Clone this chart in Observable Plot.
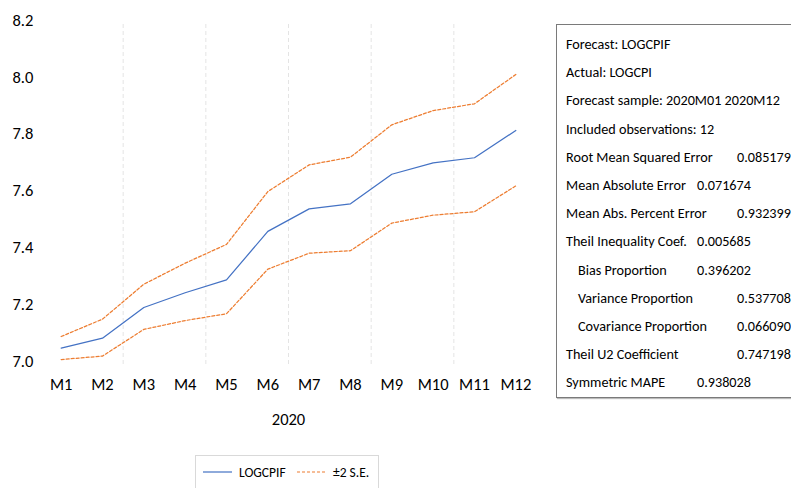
<!DOCTYPE html>
<html>
<head>
<meta charset="utf-8">
<script src="https://cdn.jsdelivr.net/npm/d3@7"></script>
<script src="https://cdn.jsdelivr.net/npm/@observablehq/plot@0.6"></script>
<style>
  html, body { margin: 0; padding: 0; background: #fff; width: 791px; height: 488px; overflow: hidden; }
  body { position: relative; font-family: "Carlito", "Lato", sans-serif; color: #000; }
  #chart { position: absolute; left: 0; top: 0; }
  #stats { position: absolute; left: 556px; top: 24px; width: 260px; height: 374px; border: 1px solid #7a7a7a; box-shadow: 1px 1px 1px #bbb; box-sizing: border-box; padding-top: 5px; font-size: 14.2px; }
  #stats .row { position: relative; height: 28.2px; line-height: 28.2px; white-space: nowrap; }
  #stats .lab { position: absolute; left: 9px; }
  #stats .lab.ind { left: 21px; }
  #stats .val { position: absolute; }
  #legend { position: absolute; left: 195px; top: 455px; width: 184px; height: 40px; border: 1px solid #d9d9d9; box-sizing: border-box; font-size: 13.5px; }
  #legend .item { position: absolute; top: 6px; display: flex; align-items: center; height: 20px; white-space: nowrap; }
  #legend svg { margin-right: 7px; }
</style>
</head>
<body>
<div id="chart"></div>
<div id="stats"></div>
<div id="legend"></div>
<script>
// ---- data ----
const months = [1, 2, 3, 4, 5, 6, 7, 8, 9, 10, 11, 12];
const monthLabels = ["M1", "M2", "M3", "M4", "M5", "M6", "M7", "M8", "M9", "M10", "M11", "M12"];
const forecast = [7.047, 7.082, 7.190, 7.242, 7.287, 7.458, 7.537, 7.555, 7.659, 7.699, 7.717, 7.813];
const upper    = [7.088, 7.149, 7.272, 7.346, 7.412, 7.598, 7.692, 7.719, 7.833, 7.883, 7.907, 8.010];
const lower    = [7.007, 7.019, 7.113, 7.144, 7.168, 7.325, 7.381, 7.390, 7.487, 7.515, 7.527, 7.618];
const yTicks = [7.0, 7.2, 7.4, 7.6, 7.8, 8.0, 8.2];
const xTitle = "2020";
const seriesNames = ["LOGCPIF", "±2 S.E."];
const statLabels = ["Forecast: LOGCPIF", "Actual: LOGCPI", "Forecast sample: 2020M01 2020M12", "Included observations: 12",
  "Root Mean Squared Error", "Mean Absolute Error", "Mean Abs. Percent Error", "Theil Inequality Coef.",
  "Bias Proportion", "Variance Proportion", "Covariance Proportion", "Theil U2 Coefficient", "Symmetric MAPE"];
const statValues = ["", "", "", "", "0.085179", "0.071674", "0.932399", "0.005685", "0.396202", "0.537708", "0.066090", "0.747198", "0.938028"];

const blue = "#4472C4", orange = "#ED7D31";
const font = '"Carlito", "Lato", sans-serif';

const data = months.map((m, i) => ({m, forecast: forecast[i], upper: upper[i], lower: lower[i]}));
const gridAt = months.filter(m => m % 2 === 0 && m < 12).map(m => m + 0.5);

const chart = Plot.plot({
  width: 545, height: 440,
  marginLeft: 40, marginRight: 9, marginTop: 20, marginBottom: 79,
  x: {domain: [0.5, 12.5]},
  y: {domain: [7.0, 8.2]},
  style: {fontFamily: font, fontSize: "16px", color: "#000", background: "transparent"},
  marks: [
    Plot.ruleX(gridAt, {stroke: "#e4e4e4", strokeDasharray: "4,3", insetTop: 4, insetBottom: -6}),
    Plot.axisY({ticks: yTicks, tickFormat: d => d.toFixed(1), tickSize: 0, tickPadding: 28, textAnchor: "start", fontSize: 16.5, label: null}),
    Plot.axisX({ticks: months, tickFormat: m => monthLabels[m - 1], tickSize: 0, tickPadding: 17, fontSize: 16.5, label: null}),
    Plot.text([xTitle], {frameAnchor: "bottom", dy: 63, fontSize: 16.5}),
    Plot.line(data, {x: "m", y: "upper", stroke: orange, strokeWidth: 1.25, strokeDasharray: "3,2"}),
    Plot.line(data, {x: "m", y: "lower", stroke: orange, strokeWidth: 1.25, strokeDasharray: "3,2"}),
    Plot.line(data, {x: "m", y: "forecast", stroke: blue, strokeWidth: 1.25})
  ]
});
document.getElementById("chart").appendChild(chart);

// stats box
const longCol = new Set([4, 6, 9, 10, 11]);
const indented = new Set([8, 9, 10]);
const stats = d3.select("#stats");
statLabels.forEach((lab, i) => {
  const row = stats.append("div").attr("class", "row");
  row.append("span").attr("class", "lab" + (indented.has(i) ? " ind" : "")).text(lab);
  if (statValues[i]) row.append("span").attr("class", "val").style("left", (longCol.has(i) ? 180 : 140) + "px").text(statValues[i]);
});

// legend
const legend = d3.select("#legend");
[[blue, null, 7], [orange, "3,2", 101]].forEach(([c, dash, left], i) => {
  const it = legend.append("div").attr("class", "item").style("left", left + "px");
  const s = it.append("svg").attr("width", 29).attr("height", 10);
  s.append("line").attr("x1", 0).attr("x2", 29).attr("y1", 5).attr("y2", 5).attr("stroke", c).attr("stroke-width", 1.2).attr("stroke-dasharray", dash);
  it.append("span").text(seriesNames[i]);
});
</script>
</body>
</html>
